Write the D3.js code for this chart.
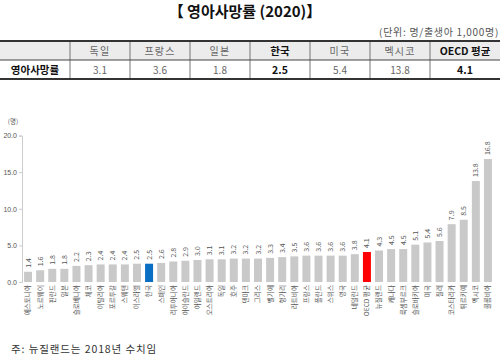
<!DOCTYPE html>
<html><head><meta charset="utf-8">
<script src="https://cdn.jsdelivr.net/npm/d3@7"></script>
<style>
html,body{margin:0;padding:0;background:#fff;}
svg{display:block;font-family:"Noto Sans CJK KR","Noto Sans",sans-serif;}
</style></head>
<body>
<svg id="c" width="500" height="357"></svg>
<script>
const countries = ["에스토니아","노르웨이","핀란드","일본","슬로베니아","체코","이탈리아","포르투갈","스웨덴","이스라엘","한국","스페인","리투아니아","아이슬란드","아일랜드","오스트리아","독일","호주","덴마크","그리스","벨기에","헝가리","라트비아","프랑스","폴란드","스위스","영국","네덜란드","OECD 평균","뉴질랜드","캐나다","룩셈부르크","슬로바키아","미국","칠레","코스타리카","튀르키예","멕시코","콜롬비아"];
const values = [1.4,1.6,1.8,1.8,2.2,2.3,2.4,2.4,2.4,2.5,2.5,2.6,2.8,2.9,3.0,3.1,3.1,3.2,3.2,3.2,3.3,3.4,3.5,3.6,3.6,3.6,3.6,3.8,4.1,4.3,4.5,4.5,5.1,5.4,5.6,7.9,8.5,13.8,16.8];
const yTicks = [0,5,10,15,20];
const tableCols = ["독일","프랑스","일본","한국","미국","멕시코","OECD 평균"];
const tableVals = ["3.1","3.6","1.8","2.5","5.4","13.8","4.1"];
const tableBold = [false,false,false,true,false,false,true];

const svg = d3.select("#c");

// Title
svg.append("text").attr("x",245).attr("y",17).attr("text-anchor","middle")
  .attr("font-size",15).attr("font-weight","bold").attr("fill","#111")
  .text("【 영아사망률 (2020)】");
svg.append("text").attr("x",499).attr("y",36).attr("text-anchor","end")
  .attr("font-size",10).attr("letter-spacing",0.7).attr("fill","#555").text("(단위: 명/출생아 1,000명)");

// Table
const colEdges = [0,70,130,190,250,310,370,430,500];
const tTop = 41, tMid = 60, tBot = 79;
svg.append("rect").attr("x",0).attr("y",tTop).attr("width",500).attr("height",tMid-tTop).attr("fill","#ececec");
colEdges.slice(1,-1).forEach(x=>{
  svg.append("line").attr("x1",x).attr("x2",x).attr("y1",tTop).attr("y2",tBot).attr("stroke","#777").attr("stroke-width",1);
});
svg.append("line").attr("x1",0).attr("x2",500).attr("y1",tTop).attr("y2",tTop).attr("stroke","#333").attr("stroke-width",2);
svg.append("line").attr("x1",0).attr("x2",500).attr("y1",tMid).attr("y2",tMid).attr("stroke","#444").attr("stroke-width",1.2);
svg.append("line").attr("x1",0).attr("x2",500).attr("y1",tBot).attr("y2",tBot).attr("stroke","#333").attr("stroke-width",2);
tableCols.forEach((c,i)=>{
  const cx=(colEdges[i+1]+colEdges[i+2])/2;
  svg.append("text").attr("x",cx).attr("y",54.5).attr("text-anchor","middle")
    .attr("font-size",tableBold[i]?10.5:10).attr("font-weight",tableBold[i]?"bold":"normal")
    .attr("letter-spacing",tableBold[i]?0:1.2)
    .attr("fill",tableBold[i]?"#111":"#666").text(c);
  svg.append("text").attr("x",cx).attr("y",73.5).attr("text-anchor","middle")
    .attr("font-size",tableBold[i]?10.5:10).attr("font-weight",tableBold[i]?"bold":"normal")
    .attr("fill",tableBold[i]?"#111":"#666").text(tableVals[i]);
});
svg.append("text").attr("x",35).attr("y",73.5).attr("text-anchor","middle")
  .attr("font-size",10.5).attr("font-weight","bold").attr("fill","#111").text("영아사망률");

// Chart
const x = d3.scaleBand().domain(countries).range([22,494]).paddingInner(0.34).paddingOuter(0.17);
const y = d3.scaleLinear().domain([0,20]).range([282,135.6]);

const yAxis = svg.append("g").attr("transform","translate(22,0)")
  .call(d3.axisLeft(y).tickValues(yTicks).tickFormat(d3.format(".1f")).tickSize(3));
yAxis.select(".domain").attr("stroke","#ccc");
yAxis.selectAll(".tick line").attr("stroke","#ccc");
yAxis.selectAll(".tick text").attr("font-size",7).attr("fill","#555").attr("x",-5);

svg.append("text").attr("x",13).attr("y",124).attr("text-anchor","middle")
  .attr("font-size",6.5).attr("fill","#555").text("(명)");

const colorOf = d => d==="한국" ? "#0a6fc2" : (d==="OECD 평균" ? "#ff0000" : "#c9c9c9");

svg.append("g").selectAll("rect").data(countries).join("rect")
  .attr("x",d=>x(d)).attr("width",x.bandwidth())
  .attr("y",(d,i)=>y(values[i])).attr("height",(d,i)=>y(0)-y(values[i]))
  .attr("fill",colorOf);

svg.append("g").selectAll("text").data(countries).join("text")
  .attr("transform",(d,i)=>`translate(${x(d)+x.bandwidth()/2+2.5},${y(values[i])-4}) rotate(-90)`)
  .attr("font-size",7).attr("fill","#555").attr("text-anchor","start")
  .text((d,i)=>values[i].toFixed(1));

svg.append("g").selectAll("text").data(countries).join("text")
  .attr("transform",d=>`translate(${x(d)+x.bandwidth()/2+2.4},285) rotate(-90)`)
  .attr("font-size",6.6).attr("fill","#555").attr("text-anchor","end")
  .text(d=>d);

svg.append("text").attr("x",11).attr("y",353).attr("font-size",10.5).attr("letter-spacing",0.9).attr("fill","#333")
  .text("주: 뉴질랜드는 2018년 수치임");
</script>
</body></html>
